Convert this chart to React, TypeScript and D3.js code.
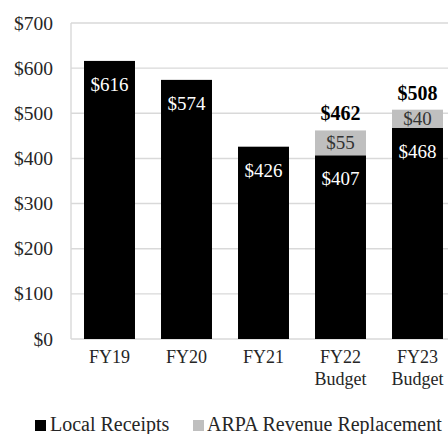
import React from 'react';
import * as d3 from 'd3';

const categories = [['FY19'], ['FY20'], ['FY21'], ['FY22', 'Budget'], ['FY23', 'Budget']];
const localReceipts = [616, 574, 426, 407, 468];
const arpa = [0, 0, 0, 55, 40];
const yTicks = [0, 100, 200, 300, 400, 500, 600, 700];
const legendItems = ['Local Receipts', 'ARPA Revenue Replacement'];

const FONT = '"Liberation Serif", serif';
const BLACK = '#000000';
const GREY = '#bfbfbf';

export default function App() {
  const width = 448;
  const height = 434;

  const keys = categories.map(c => c.join(' '));
  const x = d3.scaleBand().domain(keys).range([71, 456]).paddingInner(0.338).paddingOuter(0.169);
  const y = d3.scaleLinear().domain([0, 700]).range([339, 23]);

  const rows = keys.map((k, i) => ({ key: k, local: localReceipts[i], arpa: arpa[i] }));
  const stack = d3.stack().keys(['local', 'arpa'])(rows as any);
  const colors = [BLACK, GREY];

  const fmt = (v: number) => '$' + d3.format('d')(v);

  return (
    <svg width={width} height={height} style={{ position: 'absolute', left: 0, top: 0 }} fontFamily={FONT}>
      {/* gridlines */}
      {yTicks.map(t => (
        <line key={t} x1={71} x2={width} y1={y(t)} y2={y(t)} stroke="#d9d9d9" strokeWidth={1.4} />
      ))}
      <line x1={71} x2={71} y1={y(700)} y2={y(0)} stroke="#d9d9d9" strokeWidth={1.4} />
      {yTicks.map(t => (
        <text key={t} x={53} y={y(t) + 6.5} textAnchor="end" fontSize={19.5} fill="#262626">
          {fmt(t)}
        </text>
      ))}

      {/* bars */}
      {stack.map((series, si) => (
        <g key={si}>
          {series.map((d, i) => {
            if (d[1] - d[0] <= 0) return null;
            const bx = x(keys[i]) as number;
            return (
              <rect key={i} x={bx} y={y(d[1])} width={x.bandwidth()} height={y(d[0]) - y(d[1])} fill={colors[si]} />
            );
          })}
        </g>
      ))}

      {/* labels */}
      {rows.map((r, i) => {
        const cx = (x(r.key) as number) + x.bandwidth() / 2;
        const total = r.local + r.arpa;
        return (
          <g key={r.key} fontSize={19} textAnchor="middle">
            <text x={cx} y={y(r.local) + 30} fill="#fff">{fmt(r.local)}</text>
            {r.arpa > 0 && (
              <>
                <text x={cx} y={(y(r.local) + y(total)) / 2 + 6.5} fill="#333">{fmt(r.arpa)}</text>
                <text x={cx} y={y(total) - 10} fill="#000" fontWeight="bold" fontSize={20}>{fmt(total)}</text>
              </>
            )}
          </g>
        );
      })}

      {/* x axis labels */}
      {categories.map((c, i) => {
        const cx = (x(keys[i]) as number) + x.bandwidth() / 2;
        return (
          <text key={i} x={cx} y={363} textAnchor="middle" fontSize={18} fill="#262626">
            {c.map((line, li) => (
              <tspan key={li} x={cx} dy={li === 0 ? 0 : 21.5}>{line}</tspan>
            ))}
          </text>
        );
      })}

      {/* legend */}
      <g fontSize={20} fill="#262626">
        <rect x={35} y={420} width={11} height={11} fill={BLACK} />
        <text x={50} y={431}>{legendItems[0]}</text>
        <rect x={193} y={420} width={11} height={11} fill={GREY} />
        <text x={207} y={431}>{legendItems[1]}</text>
      </g>
    </svg>
  );
}
